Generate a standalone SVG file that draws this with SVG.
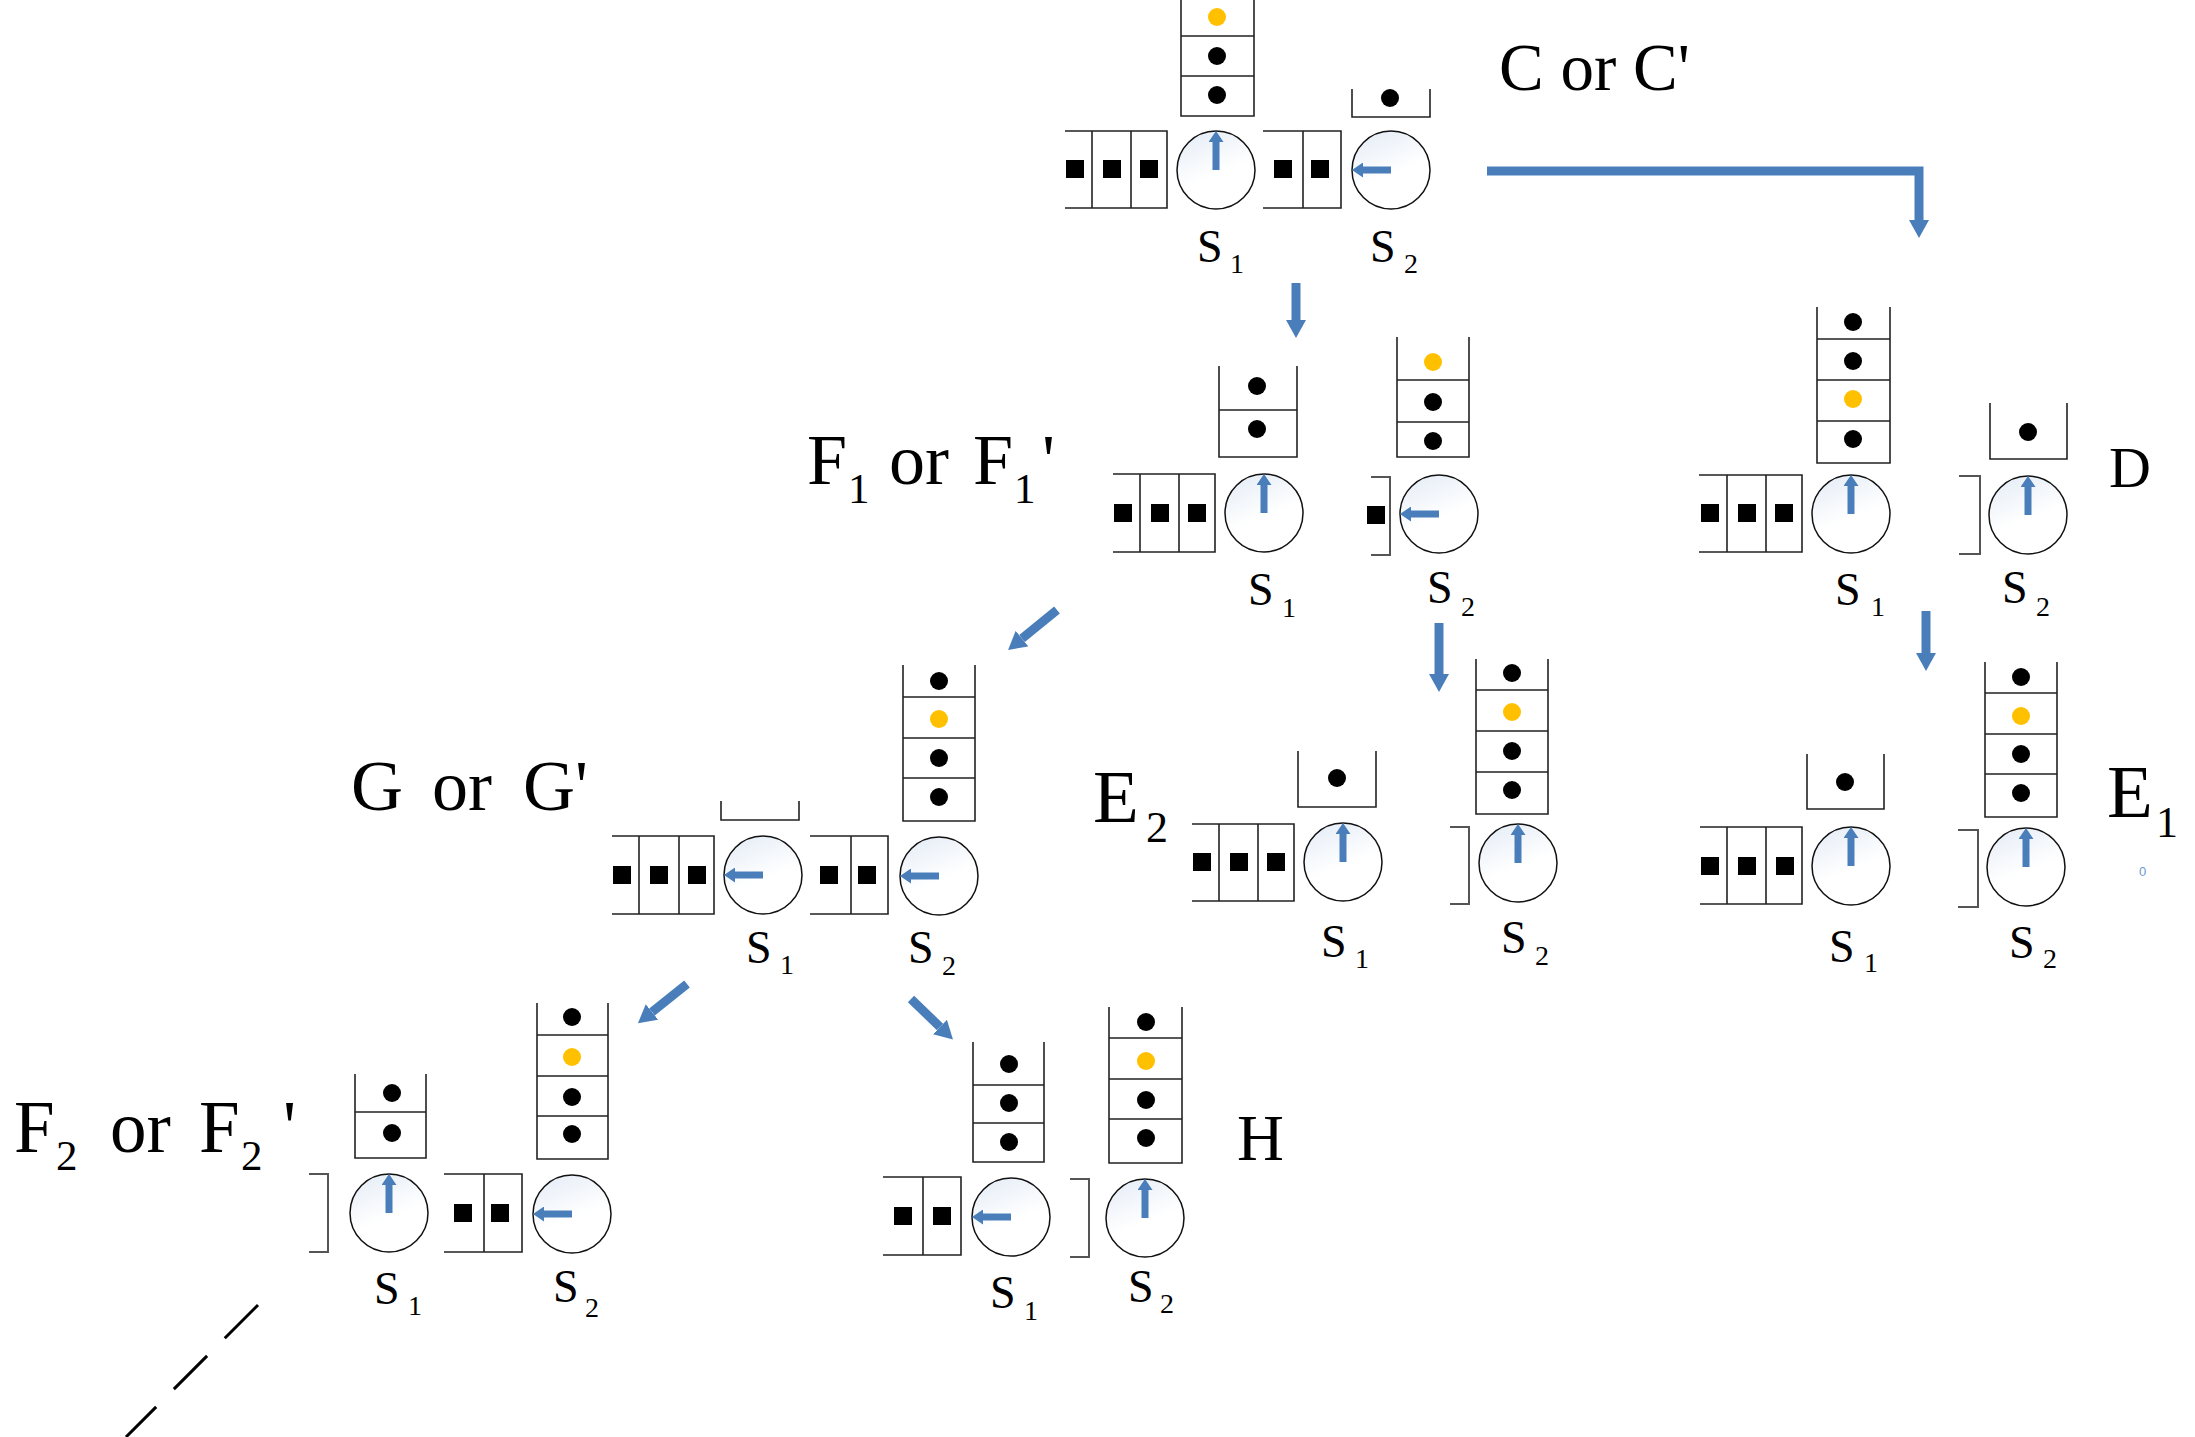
<svg xmlns="http://www.w3.org/2000/svg" xmlns:xlink="http://www.w3.org/1999/xlink" width="2195" height="1437" viewBox="0 0 2195 1437">
<style>
.q{fill:none;stroke:#222;stroke-width:1.6}
.br{fill:none;stroke:#555;stroke-width:2}
.lab{font-family:"Liberation Serif","Times New Roman",serif;fill:#000}
.s{font-size:46px}
.sub{font-size:28px}
.big{font-size:72px}
.bsub{font-size:43px}
.conn{fill:none;stroke:#4a7ebb;stroke-width:9;stroke-linejoin:miter}
.ia{fill:none;stroke:#4a7ebb;stroke-width:7}
.srv{fill:url(#cg);stroke:#111;stroke-width:1.5}
</style>
<defs>
<linearGradient id="cg" x1="0" y1="0" x2="0.4" y2="1">
<stop offset="0" stop-color="#e3ebf6"/>
<stop offset="0.65" stop-color="#ffffff"/>
</linearGradient>
<marker id="ah" markerUnits="userSpaceOnUse" markerWidth="18" markerHeight="20" viewBox="0 0 18 20" refX="0" refY="10" orient="auto">
<path d="M0,0 L18,10 L0,20 z" fill="#4a7ebb"/>
</marker>
<marker id="ih" markerUnits="userSpaceOnUse" markerWidth="11" markerHeight="15" viewBox="0 0 11 15" refX="0" refY="7.5" orient="auto">
<path d="M0,0 L11,7.5 L0,15 z" fill="#4a7ebb"/>
</marker>
<g id="srvUp"><circle class="srv" r="39"/><path class="ia" d="M0,0 V-28" marker-end="url(#ih)"/></g>
<g id="srvLeft"><circle class="srv" r="39"/><path class="ia" d="M0,0 H-28" marker-end="url(#ih)"/></g>
<rect id="sqr" x="-9" y="-9" width="18" height="18" fill="#000"/>
<circle id="dk" r="9" fill="#000"/>
<circle id="dy" r="9" fill="#ffc000"/>
</defs>

<g id="connectors">
<path class="conn" d="M1487,171 H1919 V220" marker-end="url(#ah)"/>
<path class="conn" d="M1296,283 V320" marker-end="url(#ah)"/>
<path class="conn" d="M1057,610 L1022,638.6" marker-end="url(#ah)"/>
<path class="conn" d="M1439,623 V674" marker-end="url(#ah)"/>
<path class="conn" d="M1926,611 V653" marker-end="url(#ah)"/>
<path class="conn" d="M687,984 L652,1012" marker-end="url(#ah)"/>
<path class="conn" d="M911,999 L940,1027" marker-end="url(#ah)"/>
<path d="M258,1305 L126,1437" fill="none" stroke="#000" stroke-width="3" stroke-dasharray="47 25"/>
</g>

<g id="node-C">
<path class="q" d="M1181,0 V116 H1254 V0 M1181,36 H1254 M1181,76 H1254"/>
<use href="#dy" x="1217" y="17"/><use href="#dk" x="1217" y="56"/><use href="#dk" x="1217" y="95"/>
<path class="q" d="M1065,131 H1167 V208 H1065 M1092,131 V208 M1131,131 V208"/>
<use href="#sqr" x="1075" y="169"/><use href="#sqr" x="1112" y="169"/><use href="#sqr" x="1149" y="169"/>
<use href="#srvUp" x="1216" y="170"/>
<path class="q" d="M1263,131 H1341 V208 H1263 M1303,131 V208"/>
<use href="#sqr" x="1283" y="169"/><use href="#sqr" x="1320" y="169"/>
<use href="#srvLeft" x="1391" y="170"/>
<path class="q" d="M1352,89 V117 H1430 V89"/>
<use href="#dk" x="1390" y="98"/>
<text class="lab s" x="1197" y="262">S<tspan class="sub" x="1230" y="273">1</tspan></text>
<text class="lab s" x="1370" y="262">S<tspan class="sub" x="1404" y="273">2</tspan></text>
<text class="lab" font-size="67" x="1499" y="90">C or C'</text>
</g>

<g id="node-F1">
<path class="q" d="M1219,366 V457 H1297 V366 M1219,410 H1297"/>
<use href="#dk" x="1257" y="386"/><use href="#dk" x="1257" y="429"/>
<path class="q" d="M1113,474 H1215 V552 H1113 M1140,474 V552 M1179,474 V552"/>
<use href="#sqr" x="1123" y="513"/><use href="#sqr" x="1160" y="513"/><use href="#sqr" x="1197" y="513"/>
<use href="#srvUp" x="1264" y="513"/>
<path class="br" d="M1371,477 H1390 V555 H1371"/>
<use href="#sqr" x="1376" y="515"/>
<use href="#srvLeft" x="1439" y="514"/>
<path class="q" d="M1397,337 V457 H1469 V337 M1397,380 H1469 M1397,422 H1469"/>
<use href="#dy" x="1433" y="362"/><use href="#dk" x="1433" y="402"/><use href="#dk" x="1433" y="441"/>
<text class="lab s" x="1248" y="605">S<tspan class="sub" x="1282" y="617">1</tspan></text>
<text class="lab s" x="1427" y="603">S<tspan class="sub" x="1461" y="616">2</tspan></text>
<text class="lab big" x="807" y="484">F<tspan class="bsub" x="848" y="503">1</tspan><tspan x="889" y="484">or</tspan><tspan x="973" y="484">F</tspan><tspan class="bsub" x="1014" y="503">1</tspan><tspan x="1042" y="484">'</tspan></text>
</g>

<g id="node-D">
<path class="q" d="M1817,307 V463 H1890 V307 M1817,339 H1890 M1817,380 H1890 M1817,421 H1890"/>
<use href="#dk" x="1853" y="322"/><use href="#dk" x="1853" y="361"/><use href="#dy" x="1853" y="399"/><use href="#dk" x="1853" y="439"/>
<path class="q" d="M1699,475 H1802 V552 H1699 M1727,475 V552 M1766,475 V552"/>
<use href="#sqr" x="1710" y="513"/><use href="#sqr" x="1747" y="513"/><use href="#sqr" x="1784" y="513"/>
<use href="#srvUp" x="1851" y="514"/>
<path class="br" d="M1959,476 H1980 V554 H1959"/>
<use href="#srvUp" x="2028" y="515"/>
<path class="q" d="M1990,403 V459 H2067 V403"/>
<use href="#dk" x="2028" y="432"/>
<text class="lab s" x="1835" y="605">S<tspan class="sub" x="1871" y="616">1</tspan></text>
<text class="lab s" x="2002" y="603">S<tspan class="sub" x="2036" y="616">2</tspan></text>
<text class="lab" font-size="58" x="2109" y="487">D</text>
</g>

<g id="node-G">
<path class="q" d="M721,801 V820 H799 V801"/>
<path class="q" d="M612,836 H714 V914 H612 M639,836 V914 M679,836 V914"/>
<use href="#sqr" x="622" y="875"/><use href="#sqr" x="659" y="875"/><use href="#sqr" x="697" y="875"/>
<use href="#srvLeft" x="763" y="875"/>
<path class="q" d="M810,836 H888 V914 H810 M851,836 V914"/>
<use href="#sqr" x="829" y="875"/><use href="#sqr" x="867" y="875"/>
<use href="#srvLeft" x="939" y="876"/>
<path class="q" d="M903,665 V821 H975 V665 M903,697 H975 M903,738 H975 M903,778 H975"/>
<use href="#dk" x="939" y="681"/><use href="#dy" x="939" y="719"/><use href="#dk" x="939" y="758"/><use href="#dk" x="939" y="797"/>
<text class="lab s" x="746" y="963">S<tspan class="sub" x="780" y="974">1</tspan></text>
<text class="lab s" x="908" y="963">S<tspan class="sub" x="942" y="975">2</tspan></text>
<text class="lab big" x="351" y="810">G<tspan x="432" y="810">or</tspan><tspan x="523" y="810">G'</tspan></text>
</g>

<g id="node-E2">
<path class="q" d="M1298,751 V807 H1376 V751"/>
<use href="#dk" x="1337" y="778"/>
<path class="q" d="M1192,824 H1294 V901 H1192 M1219,824 V901 M1258,824 V901"/>
<use href="#sqr" x="1202" y="862"/><use href="#sqr" x="1239" y="862"/><use href="#sqr" x="1276" y="862"/>
<use href="#srvUp" x="1343" y="862"/>
<path class="br" d="M1450,827 H1469 V904 H1450"/>
<use href="#srvUp" x="1518" y="863"/>
<path class="q" d="M1476,659 V814 H1548 V659 M1476,690 H1548 M1476,731 H1548 M1476,772 H1548"/>
<use href="#dk" x="1512" y="673"/><use href="#dy" x="1512" y="712"/><use href="#dk" x="1512" y="751"/><use href="#dk" x="1512" y="790"/>
<text class="lab s" x="1321" y="957">S<tspan class="sub" x="1355" y="968">1</tspan></text>
<text class="lab s" x="1501" y="953">S<tspan class="sub" x="1535" y="965">2</tspan></text>
<text class="lab" font-size="75" x="1093" y="822">E<tspan font-size="44" x="1146" y="842">2</tspan></text>
</g>

<g id="node-E1">
<path class="q" d="M1807,754 V809 H1884 V754"/>
<use href="#dk" x="1845" y="782"/>
<path class="q" d="M1700,827 H1802 V904 H1700 M1727,827 V904 M1766,827 V904"/>
<use href="#sqr" x="1710" y="866"/><use href="#sqr" x="1747" y="866"/><use href="#sqr" x="1785" y="866"/>
<use href="#srvUp" x="1851" y="866"/>
<path class="br" d="M1958,830 H1978 V907 H1958"/>
<use href="#srvUp" x="2026" y="867"/>
<path class="q" d="M1985,662 V817 H2057 V662 M1985,693 H2057 M1985,734 H2057 M1985,774 H2057"/>
<use href="#dk" x="2021" y="677"/><use href="#dy" x="2021" y="716"/><use href="#dk" x="2021" y="754"/><use href="#dk" x="2021" y="793"/>
<text class="lab s" x="1829" y="962">S<tspan class="sub" x="1864" y="972">1</tspan></text>
<text class="lab s" x="2009" y="958">S<tspan class="sub" x="2043" y="968">2</tspan></text>
<text class="lab" font-size="75" x="2107" y="817">E<tspan font-size="44" x="2156" y="837">1</tspan></text>
<text font-family="Liberation Sans, Arial, sans-serif" font-size="13" fill="#6a9bd1" x="2139" y="876">0</text>
</g>

<g id="node-F2">
<path class="br" d="M309,1174 H328 V1252 H309"/>
<use href="#srvUp" x="389" y="1213"/>
<path class="q" d="M355,1074 V1158 H426 V1074 M355,1112 H426"/>
<use href="#dk" x="392" y="1093"/><use href="#dk" x="392" y="1133"/>
<path class="q" d="M444,1174 H522 V1252 H444 M484,1174 V1252"/>
<use href="#sqr" x="463" y="1213"/><use href="#sqr" x="500" y="1213"/>
<use href="#srvLeft" x="572" y="1214"/>
<path class="q" d="M537,1003 V1159 H608 V1003 M537,1035 H608 M537,1076 H608 M537,1116 H608"/>
<use href="#dk" x="572" y="1017"/><use href="#dy" x="572" y="1057"/><use href="#dk" x="572" y="1097"/><use href="#dk" x="572" y="1134"/>
<text class="lab s" x="374" y="1304">S<tspan class="sub" x="408" y="1315">1</tspan></text>
<text class="lab s" x="553" y="1302">S<tspan class="sub" x="585" y="1317">2</tspan></text>
<text class="lab" font-size="73" x="14" y="1152">F<tspan class="bsub" x="56" y="1170">2</tspan><tspan x="110" y="1152">or</tspan><tspan x="199" y="1152">F</tspan><tspan class="bsub" x="241" y="1170">2</tspan><tspan x="283" y="1152">'</tspan></text>
</g>

<g id="node-H">
<path class="q" d="M973,1042 V1162 H1044 V1042 M973,1085 H1044 M973,1123 H1044"/>
<use href="#dk" x="1009" y="1064"/><use href="#dk" x="1009" y="1103"/><use href="#dk" x="1009" y="1142"/>
<path class="q" d="M883,1177 H961 V1255 H883 M923,1177 V1255"/>
<use href="#sqr" x="903" y="1216"/><use href="#sqr" x="942" y="1216"/>
<use href="#srvLeft" x="1011" y="1217"/>
<path class="br" d="M1070,1179 H1089 V1257 H1070"/>
<use href="#srvUp" x="1145" y="1218"/>
<path class="q" d="M1109,1007 V1163 H1182 V1007 M1109,1038 H1182 M1109,1079 H1182 M1109,1119 H1182"/>
<use href="#dk" x="1146" y="1022"/><use href="#dy" x="1146" y="1061"/><use href="#dk" x="1146" y="1100"/><use href="#dk" x="1146" y="1138"/>
<text class="lab s" x="990" y="1308">S<tspan class="sub" x="1024" y="1320">1</tspan></text>
<text class="lab s" x="1128" y="1302">S<tspan class="sub" x="1160" y="1313">2</tspan></text>
<text class="lab" font-size="65" x="1237" y="1160">H</text>
</g>
</svg>
